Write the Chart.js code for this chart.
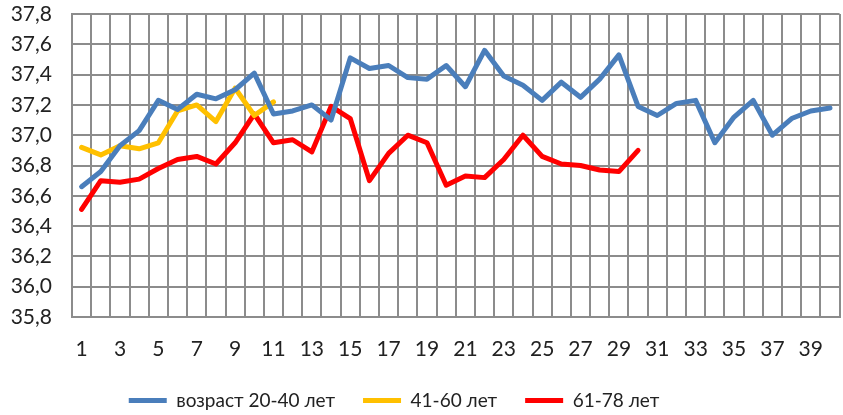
<!DOCTYPE html>
<html>
<head>
<meta charset="utf-8">
<script src="https://cdn.jsdelivr.net/npm/chart.js@4"></script>
<style>
  html, body { margin: 0; padding: 0; overflow: hidden; background: #fff; }
  #wrap { width: 843px; height: 415px; overflow: hidden; }
</style>
</head>
<body>
<div id="wrap"><canvas id="tempChart" width="850" height="420"></canvas></div>
<script>
const days = Array.from({ length: 40 }, (_, i) => String(i + 1));

const age20to40 = [36.66, 36.76, 36.93, 37.03, 37.23, 37.17, 37.27, 37.24, 37.30, 37.41,
  37.14, 37.16, 37.20, 37.10, 37.51, 37.44, 37.46, 37.38, 37.37, 37.46,
  37.32, 37.56, 37.39, 37.33, 37.23, 37.35, 37.25, 37.37, 37.53, 37.19,
  37.13, 37.21, 37.23, 36.95, 37.12, 37.23, 37.00, 37.11, 37.16, 37.18];

const age41to60 = [36.92, 36.87, 36.93, 36.91, 36.95, 37.16, 37.20, 37.09, 37.31, 37.13,
  37.22];

const age61to78 = [36.51, 36.70, 36.69, 36.71, 36.78, 36.84, 36.86, 36.81, 36.95, 37.14,
  36.95, 36.97, 36.89, 37.19, 37.11, 36.70, 36.88, 37.00, 36.95, 36.67,
  36.73, 36.72, 36.84, 37.00, 36.86, 36.81, 36.80, 36.77, 36.76, 36.90];

const seriesNames = ["возраст 20-40 лет", "41-60 лет", "61-78 лет"];
const seriesColors = ["#4a7ebb", "#ffc000", "#ff0000"];

const fontFamily = "Lato, 'Open Sans', 'Noto Sans', sans-serif";
const gridColor = "#8c8c8c";

function makeSet(i, data) {
  return {
    label: seriesNames[i],
    data: data,
    borderColor: seriesColors[i],
    backgroundColor: seriesColors[i],
    borderWidth: 5,
    borderCapStyle: "round",
    borderJoinStyle: "round",
    pointRadius: 0,
    tension: 0,
    fill: false,
  };
}

// the legend in the original sits a bit left of the canvas centre
const shiftLegend = {
  id: "shiftLegend",
  afterLayout(chart) {
    chart.legend.left -= 30;
    chart.legend.right -= 30;
  },
};

const ctx = document.getElementById("tempChart").getContext("2d");
new Chart(ctx, {
  type: "line",
  data: {
    labels: days,
    datasets: [
      makeSet(0, age20to40),
      makeSet(1, age41to60),
      makeSet(2, age61to78),
    ],
  },
  plugins: [shiftLegend],
  options: {
    responsive: false,
    animation: false,
    layout: { padding: { top: 14, right: 2, left: 0, bottom: 0 } },
    plugins: {
      tooltip: { enabled: false },
      legend: {
        position: "bottom",
        labels: {
          usePointStyle: true,
          pointStyle: "line",
          pointStyleWidth: 38,
          color: "#222",
          font: { family: fontFamily, size: 19 },
          padding: 28,
        },
      },
    },
    scales: {
      x: {
        offset: true,
        grid: { offset: true, color: gridColor, lineWidth: 2, drawTicks: false },
        border: { color: gridColor, width: 2 },
        ticks: {
          color: "#222",
          font: { family: fontFamily, size: 21 },
          padding: 20,
          maxRotation: 0,
          autoSkip: false,
          callback: function (val, idx) {
            return idx % 2 === 0 ? this.getLabelForValue(val) : "";
          },
        },
        afterFit: (scale) => { scale.height = 46; },
      },
      y: {
        min: 35.8,
        max: 37.8,
        grid: { color: gridColor, lineWidth: 2, drawTicks: false },
        border: { color: gridColor, width: 2 },
        ticks: {
          stepSize: 0.2,
          color: "#222",
          font: { family: fontFamily, size: 21 },
          padding: 20,
          callback: (v) => v.toFixed(1).replace(".", ","),
        },
        afterFit: (scale) => {
          scale.width = 72;
          scale.paddingTop = 0;
          scale.paddingBottom = 0;
        },
      },
    },
  },
});
</script>
</body>
</html>
